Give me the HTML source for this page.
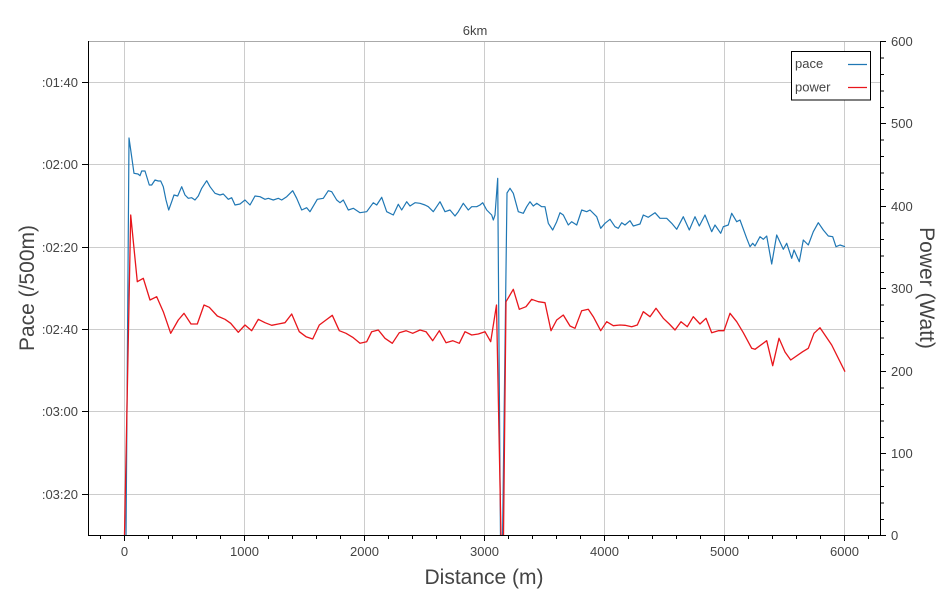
<!DOCTYPE html>
<html>
<head>
<meta charset="utf-8">
<style>
  html, body { margin: 0; padding: 0; background: #ffffff; }
  svg { display: block; }
  text { font-family: "Liberation Sans", Arial, Helvetica, sans-serif; fill: #444; }
</style>
</head>
<body>
<svg width="944" height="613" viewBox="0 0 944 613" xmlns="http://www.w3.org/2000/svg">
  <rect x="0" y="0" width="944" height="613" fill="#ffffff"/>

  <!-- title -->
  <text x="475" y="35" font-size="13" text-anchor="middle">6km</text>

  <!-- grid -->
  <g stroke="#cccccc" stroke-width="1">
    <line x1="124.5" y1="41" x2="124.5" y2="535"/>
    <line x1="244.5" y1="41" x2="244.5" y2="535"/>
    <line x1="364.5" y1="41" x2="364.5" y2="535"/>
    <line x1="484.5" y1="41" x2="484.5" y2="535"/>
    <line x1="604.5" y1="41" x2="604.5" y2="535"/>
    <line x1="724.5" y1="41" x2="724.5" y2="535"/>
    <line x1="844.5" y1="41" x2="844.5" y2="535"/>
    <line x1="88" y1="82.5" x2="880" y2="82.5"/>
    <line x1="88" y1="164.5" x2="880" y2="164.5"/>
    <line x1="88" y1="247.5" x2="880" y2="247.5"/>
    <line x1="88" y1="329.5" x2="880" y2="329.5"/>
    <line x1="88" y1="411.5" x2="880" y2="411.5"/>
    <line x1="88" y1="494.5" x2="880" y2="494.5"/>
  </g>

  <!-- top border -->
  <line x1="88" y1="41.5" x2="880" y2="41.5" stroke="#aaaaaa" stroke-width="1"/>

  <defs>
    <clipPath id="plot"><rect x="88" y="41" width="792" height="494.5"/></clipPath>
  </defs>

  <g clip-path="url(#plot)" fill="none" stroke-linejoin="round">
    <polyline stroke="#1f77b4" stroke-width="1.2" points="
126,540 129,138 131,152 134,173.3 138,174 140,175.7 141.7,171 145,171 149.3,185 151.7,185 155,180 158.3,181 160.7,181 163.3,186.7 166,200 168.7,210 171.7,201.7 174,195 177.7,196 181.7,186.7 185,195 188.3,198.3 191.7,197.7 195,200 198.3,196 201.7,188.3 206.7,180.7 210,186.7 215,193.3 220,195 223.3,194 228.3,199.3 231.7,197.7 235,205 240,204 245,200 250,205 255,196 260,196.7 265,199.3 268.3,198.3 273.3,200 278.3,198.3 281.7,200 286.7,196.7 292.7,190.7 296.7,198.3 301.7,210 306.7,207.7 310,211.7 317.3,199.3 323.3,198.3 328.3,190.7 331.7,191.7 336.7,200 340,202.7 343.3,200 348.3,210 353.3,208.3 360,212.7 366.7,211.7 373.3,202.7 376.7,205 381.7,197.3 386.7,211.7 393.3,215 398.3,204.3 401.7,210 406.7,201.7 410,206 415,202.7 420,203.3 425,205 428.3,206.7 433.3,211.7 440,201.7 445,211.7 450,210 455,216 458.3,211.7 463.3,203.3 468.3,210 471.7,206.7 476.7,206.7 480,205 482.7,202.7 486.7,210 491.7,215 493.3,220 495,215 497.7,178.3 500.5,540 502.5,540 507,193 510,188.3 513.3,193.3 518.3,211.7 523.3,213.3 526.7,206.7 530,201.7 533.3,206 536.7,203.3 541.7,206.7 545,206.7 548.3,223.3 552.7,230 556.7,221.7 560,212.7 563.3,215 568.3,225 571.7,221.7 576.7,225 581.7,210 586.7,211.7 590,210 596.7,216.7 600.7,228.3 605,223.3 610,219.3 615,226.7 618.3,228.3 621.7,222.7 625,225 630,220.7 633.3,226 640,224 643.3,215 648.3,217.3 655,212.7 660,218.3 666.7,218.3 671.7,223.3 676.7,229.3 683.3,216.7 689.3,230 695,216.7 699.3,226 705,215 711.7,231.7 715,225 720.7,233.3 723.3,226.7 728.3,225 731.7,213.3 736.7,221.7 740,220 746.7,238.3 750,246.7 752.7,243.3 755,246 760,236.7 763.3,239.3 766.7,236 771.7,264 776.7,235 783.3,249.3 786.7,243.3 791.7,258.3 794,250 799.3,261.7 803.3,240 808.3,245 813.3,231.7 818.3,222.7 823.3,230 828.3,236 832.7,236.7 836,246.7 840,245 845,246.7"/>
    <polyline stroke="#e8161c" stroke-width="1.3" points="
124.5,535.5 130.7,215 137.3,281.7 143.3,278.3 150,300 156.7,296.7 163.3,311.7 170.7,333.3 178.3,320 184,313.3 191,324 197.3,324 204,305 209.3,307.3 217.3,316 225,319.3 230.7,323.3 238.3,332.3 245,325 251.7,330.7 258.3,319.3 265,322.7 271.7,325.3 278.3,324 285,322.7 291.7,314 299.3,331.7 306,336.7 312.7,339 319.3,325 326,320 332.3,315.3 339.3,330.7 346,333.3 352.7,337.3 360,343.3 366.7,341.7 371.7,331.7 378.3,330 385,338.3 392.3,343.3 399.3,332.7 406,330.7 412.7,333.3 420,330 426,331.7 432.7,340.7 439.3,330.7 446,342.7 452.7,340.7 459.3,343.3 465,331.7 471.7,335 478.3,334 485,331.7 490.7,341.7 496.5,305 501,535.5 503.5,535.5 506,301.7 513.3,289.3 519.3,309.3 526,306.7 531.7,299.3 538.3,301.7 545,302.7 551,330.7 556.7,320 563.3,315 570,326 575,328.3 581.7,310.7 588.3,309.3 593.3,316.7 600.7,330.7 606.7,321.7 613.3,325.7 620,325 625,325.3 631.7,326.7 637.3,325 643.3,311.7 650,316.7 656,308.3 663.3,318.3 669.3,324 675,330 681,321.7 687.3,326.7 693.3,316.7 700,324 706,318.3 711.7,332.7 718.3,330.7 724,330.7 730,313.3 736.7,321.7 743.3,332.7 751.7,348.3 755,349.3 766.7,340.7 772.7,365.7 779,338.3 785,352 790.7,360 802.7,351.7 808.3,348.3 814,333.3 820,327.7 831.7,345 845,371.7"/>
  </g>

  <!-- axes lines -->
  <g stroke="#000" stroke-width="1">
    <line x1="88.5" y1="41" x2="88.5" y2="536"/>
    <line x1="88" y1="535.5" x2="881" y2="535.5"/>
    <line x1="880.5" y1="41" x2="880.5" y2="536"/>
  </g>

  <!-- left ticks -->
  <g stroke="#000" stroke-width="1">
    <line x1="82" y1="82.5" x2="88" y2="82.5"/>
    <line x1="82" y1="164.5" x2="88" y2="164.5"/>
    <line x1="82" y1="247.5" x2="88" y2="247.5"/>
    <line x1="82" y1="329.5" x2="88" y2="329.5"/>
    <line x1="82" y1="411.5" x2="88" y2="411.5"/>
    <line x1="82" y1="494.5" x2="88" y2="494.5"/>
  </g>
  <g font-size="13" text-anchor="end">
    <text x="78" y="87">:01:40</text>
    <text x="78" y="169">:02:00</text>
    <text x="78" y="252">:02:20</text>
    <text x="78" y="334">:02:40</text>
    <text x="78" y="416">:03:00</text>
    <text x="78" y="499">:03:20</text>
  </g>

  <!-- bottom ticks -->
  <g stroke="#000" stroke-width="1">
    <line x1="100.5" y1="535" x2="100.5" y2="539"/>
    <line x1="124.5" y1="535" x2="124.5" y2="541"/>
    <line x1="148.5" y1="535" x2="148.5" y2="539"/>
    <line x1="172.5" y1="535" x2="172.5" y2="539"/>
    <line x1="196.5" y1="535" x2="196.5" y2="539"/>
    <line x1="220.5" y1="535" x2="220.5" y2="539"/>
    <line x1="244.5" y1="535" x2="244.5" y2="541"/>
    <line x1="268.5" y1="535" x2="268.5" y2="539"/>
    <line x1="292.5" y1="535" x2="292.5" y2="539"/>
    <line x1="316.5" y1="535" x2="316.5" y2="539"/>
    <line x1="340.5" y1="535" x2="340.5" y2="539"/>
    <line x1="364.5" y1="535" x2="364.5" y2="541"/>
    <line x1="388.5" y1="535" x2="388.5" y2="539"/>
    <line x1="412.5" y1="535" x2="412.5" y2="539"/>
    <line x1="436.5" y1="535" x2="436.5" y2="539"/>
    <line x1="460.5" y1="535" x2="460.5" y2="539"/>
    <line x1="484.5" y1="535" x2="484.5" y2="541"/>
    <line x1="508.5" y1="535" x2="508.5" y2="539"/>
    <line x1="532.5" y1="535" x2="532.5" y2="539"/>
    <line x1="556.5" y1="535" x2="556.5" y2="539"/>
    <line x1="580.5" y1="535" x2="580.5" y2="539"/>
    <line x1="604.5" y1="535" x2="604.5" y2="541"/>
    <line x1="628.5" y1="535" x2="628.5" y2="539"/>
    <line x1="652.5" y1="535" x2="652.5" y2="539"/>
    <line x1="676.5" y1="535" x2="676.5" y2="539"/>
    <line x1="700.5" y1="535" x2="700.5" y2="539"/>
    <line x1="724.5" y1="535" x2="724.5" y2="541"/>
    <line x1="748.5" y1="535" x2="748.5" y2="539"/>
    <line x1="772.5" y1="535" x2="772.5" y2="539"/>
    <line x1="796.5" y1="535" x2="796.5" y2="539"/>
    <line x1="820.5" y1="535" x2="820.5" y2="539"/>
    <line x1="844.5" y1="535" x2="844.5" y2="541"/>
    <line x1="868.5" y1="535" x2="868.5" y2="539"/>
  </g>
  <g font-size="13" text-anchor="middle">
    <text x="124.5" y="556">0</text>
    <text x="244.5" y="556">1000</text>
    <text x="364.5" y="556">2000</text>
    <text x="484.5" y="556">3000</text>
    <text x="604.5" y="556">4000</text>
    <text x="724.5" y="556">5000</text>
    <text x="844.5" y="556">6000</text>
  </g>

  <!-- right ticks -->
  <g stroke="#000" stroke-width="1">
    <line x1="880" y1="41.5" x2="886" y2="41.5"/>
    <line x1="880" y1="58" x2="884" y2="58"/>
    <line x1="880" y1="74.5" x2="884" y2="74.5"/>
    <line x1="880" y1="91" x2="884" y2="91"/>
    <line x1="880" y1="107.5" x2="884" y2="107.5"/>
    <line x1="880" y1="123.5" x2="886" y2="123.5"/>
    <line x1="880" y1="140" x2="884" y2="140"/>
    <line x1="880" y1="156.5" x2="884" y2="156.5"/>
    <line x1="880" y1="173" x2="884" y2="173"/>
    <line x1="880" y1="189.5" x2="884" y2="189.5"/>
    <line x1="880" y1="206.5" x2="886" y2="206.5"/>
    <line x1="880" y1="223" x2="884" y2="223"/>
    <line x1="880" y1="239.5" x2="884" y2="239.5"/>
    <line x1="880" y1="256" x2="884" y2="256"/>
    <line x1="880" y1="272.5" x2="884" y2="272.5"/>
    <line x1="880" y1="288.5" x2="886" y2="288.5"/>
    <line x1="880" y1="305" x2="884" y2="305"/>
    <line x1="880" y1="321.5" x2="884" y2="321.5"/>
    <line x1="880" y1="338" x2="884" y2="338"/>
    <line x1="880" y1="354.5" x2="884" y2="354.5"/>
    <line x1="880" y1="371.5" x2="886" y2="371.5"/>
    <line x1="880" y1="388" x2="884" y2="388"/>
    <line x1="880" y1="404.5" x2="884" y2="404.5"/>
    <line x1="880" y1="421" x2="884" y2="421"/>
    <line x1="880" y1="437.5" x2="884" y2="437.5"/>
    <line x1="880" y1="453.5" x2="886" y2="453.5"/>
    <line x1="880" y1="470" x2="884" y2="470"/>
    <line x1="880" y1="486.5" x2="884" y2="486.5"/>
    <line x1="880" y1="503" x2="884" y2="503"/>
    <line x1="880" y1="519.5" x2="884" y2="519.5"/>
    <line x1="880" y1="535.5" x2="886" y2="535.5"/>
  </g>
  <g font-size="13" text-anchor="start">
    <text x="891" y="46">600</text>
    <text x="891" y="128">500</text>
    <text x="891" y="211">400</text>
    <text x="891" y="293">300</text>
    <text x="891" y="376">200</text>
    <text x="891" y="458">100</text>
    <text x="891" y="540">0</text>
  </g>

  <!-- axis labels -->
  <text x="484" y="584" font-size="21" text-anchor="middle">Distance (m)</text>
  <text transform="translate(34,288) rotate(-90)" font-size="21" text-anchor="middle">Pace (/500m)</text>
  <text transform="translate(920,288) rotate(90)" font-size="21" text-anchor="middle">Power (Watt)</text>

  <!-- legend -->
  <rect x="791.5" y="51.5" width="79" height="48.5" fill="#ffffff" stroke="#000" stroke-width="1"/>
  <text x="795" y="68" font-size="13">pace</text>
  <text x="795" y="91.5" font-size="13">power</text>
  <line x1="848" y1="64.5" x2="867" y2="64.5" stroke="#1f77b4" stroke-width="1.3"/>
  <line x1="848" y1="87.5" x2="867" y2="87.5" stroke="#e8161c" stroke-width="1.3"/>
</svg>
</body>
</html>
